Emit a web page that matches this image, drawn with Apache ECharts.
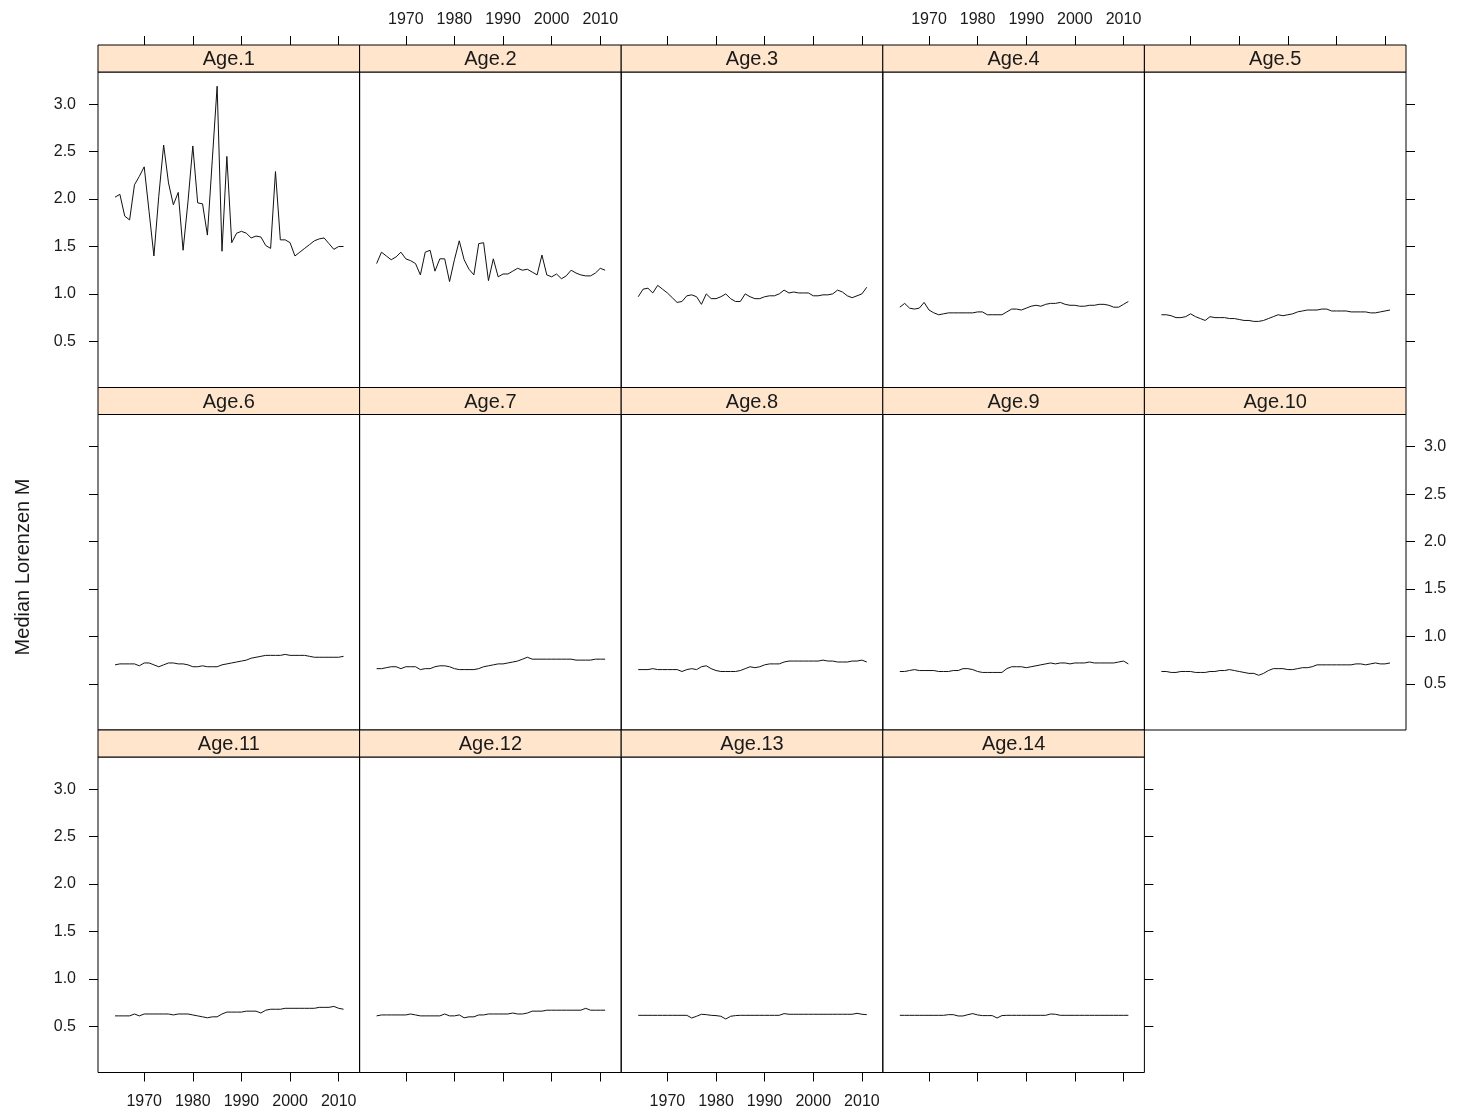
<!DOCTYPE html>
<html><head><meta charset="utf-8">
<script src="https://cdn.jsdelivr.net/npm/echarts@6/dist/echarts.min.js"></script>
<style>html,body{margin:0;padding:0;background:#fff}#chart{width:1457px;height:1115px}</style>
</head><body><div id="chart"></div>
<script>
// ---------------- DATA ----------------
const years = [1964,1965,1966,1967,1968,1969,1970,1971,1972,1973,1974,1975,1976,1977,1978,1979,
  1980,1981,1982,1983,1984,1985,1986,1987,1988,1989,1990,1991,1992,1993,1994,1995,1996,1997,1998,1999,
  2000,2001,2002,2003,2004,2005,2006,2007,2008,2009,2010,2011];
const panelTitles = ['Age.1','Age.2','Age.3','Age.4','Age.5','Age.6','Age.7','Age.8','Age.9','Age.10',
  'Age.11','Age.12','Age.13','Age.14'];
const xTickValues = [1970, 1980, 1990, 2000, 2010];
const yTickValues = [0.5, 1.0, 1.5, 2.0, 2.5, 3.0];
const yAxisTitle = 'Median Lorenzen M';

const age1 = [2.02,2.05,1.82,1.78,2.15,2.24,2.34,1.87,1.40,2.03,2.57,2.17,1.94,2.07,1.46,1.97,2.56,1.96,1.95,1.62,2.41,3.19,1.45,2.45,
  1.54,1.64,1.66,1.64,1.59,1.61,1.60,1.51,1.48,2.29,1.57,1.57,1.54,1.40,1.44,1.48,1.52,1.56,1.58,1.59,1.53,1.47,1.50,1.50];
const age2 = [1.32,1.44,1.40,1.36,1.39,1.44,1.37,1.35,1.32,1.20,1.44,1.46,1.24,1.37,1.37,1.13,1.36,1.56,1.36,1.26,1.20,1.53,1.54,1.14,
  1.37,1.18,1.21,1.21,1.24,1.27,1.25,1.26,1.23,1.20,1.41,1.20,1.18,1.21,1.16,1.19,1.25,1.22,1.20,1.19,1.19,1.22,1.27,1.25];
const age3 = [0.97,1.05,1.06,1.01,1.09,1.05,1.01,0.96,0.91,0.92,0.98,0.99,0.97,0.89,1.00,0.95,0.95,0.97,1.00,0.95,0.92,0.92,1.00,0.97,
  0.95,0.95,0.97,0.98,0.98,1.00,1.04,1.01,1.02,1.01,1.01,1.01,0.98,0.98,0.99,0.99,1.00,1.04,1.02,0.98,0.96,0.98,1.00,1.07];
const age4 = [0.86,0.90,0.85,0.84,0.85,0.91,0.83,0.80,0.78,0.79,0.80,0.80,0.80,0.80,0.80,0.80,0.81,0.81,0.78,0.78,0.78,0.78,0.81,0.84,
  0.84,0.83,0.85,0.87,0.88,0.87,0.89,0.90,0.90,0.91,0.89,0.88,0.88,0.87,0.87,0.88,0.88,0.89,0.89,0.88,0.86,0.86,0.89,0.92];
const age5 = [0.78,0.78,0.77,0.75,0.75,0.76,0.79,0.76,0.74,0.72,0.76,0.75,0.75,0.75,0.74,0.74,0.73,0.72,0.72,0.71,0.71,0.72,0.74,0.76,
  0.78,0.77,0.78,0.79,0.81,0.82,0.83,0.83,0.83,0.84,0.84,0.82,0.82,0.82,0.82,0.81,0.81,0.81,0.81,0.80,0.80,0.81,0.82,0.83];
const age6 = [0.70,0.71,0.71,0.71,0.71,0.69,0.72,0.72,0.70,0.68,0.70,0.72,0.72,0.71,0.71,0.70,0.68,0.68,0.69,0.68,0.68,0.68,0.70,0.71,
  0.72,0.73,0.74,0.75,0.77,0.78,0.79,0.80,0.80,0.80,0.80,0.81,0.80,0.80,0.80,0.80,0.79,0.78,0.78,0.78,0.78,0.78,0.78,0.79];
const age7 = [0.66,0.66,0.67,0.68,0.68,0.66,0.68,0.68,0.68,0.65,0.66,0.66,0.68,0.69,0.69,0.68,0.66,0.65,0.65,0.65,0.65,0.66,0.68,0.69,
  0.70,0.71,0.71,0.72,0.73,0.74,0.76,0.78,0.76,0.76,0.76,0.76,0.76,0.76,0.76,0.76,0.76,0.75,0.75,0.75,0.75,0.76,0.76,0.76];
const age8 = [0.65,0.65,0.65,0.66,0.65,0.65,0.65,0.65,0.65,0.63,0.65,0.66,0.65,0.68,0.69,0.66,0.64,0.63,0.63,0.63,0.63,0.64,0.66,0.68,
  0.67,0.68,0.70,0.71,0.71,0.71,0.73,0.74,0.74,0.74,0.74,0.74,0.74,0.74,0.75,0.74,0.74,0.73,0.73,0.73,0.74,0.74,0.75,0.73];
const age9 = [0.63,0.63,0.64,0.65,0.64,0.64,0.64,0.64,0.63,0.63,0.63,0.64,0.64,0.66,0.66,0.65,0.63,0.62,0.62,0.62,0.62,0.62,0.66,0.68,
  0.68,0.68,0.67,0.68,0.69,0.70,0.71,0.72,0.71,0.72,0.72,0.71,0.72,0.72,0.72,0.73,0.72,0.72,0.72,0.72,0.72,0.73,0.74,0.71];
const age10 = [0.63,0.63,0.62,0.62,0.63,0.63,0.63,0.62,0.62,0.62,0.63,0.63,0.64,0.64,0.65,0.64,0.63,0.62,0.61,0.61,0.59,0.61,0.64,0.66,
  0.66,0.66,0.65,0.65,0.66,0.67,0.67,0.68,0.70,0.70,0.70,0.70,0.70,0.70,0.70,0.70,0.71,0.71,0.70,0.71,0.72,0.71,0.71,0.72];
const age11 = [0.61,0.61,0.61,0.61,0.63,0.61,0.63,0.63,0.63,0.63,0.63,0.63,0.62,0.63,0.63,0.63,0.62,0.61,0.60,0.59,0.60,0.60,0.63,0.65,
  0.65,0.65,0.65,0.66,0.66,0.66,0.64,0.67,0.68,0.68,0.68,0.69,0.69,0.69,0.69,0.69,0.69,0.69,0.70,0.70,0.70,0.71,0.69,0.68];
const age12 = [0.61,0.62,0.62,0.62,0.62,0.62,0.62,0.63,0.62,0.61,0.61,0.61,0.61,0.61,0.63,0.61,0.61,0.62,0.59,0.60,0.60,0.62,0.62,0.63,
  0.63,0.63,0.63,0.63,0.64,0.63,0.63,0.64,0.66,0.66,0.66,0.67,0.67,0.67,0.67,0.67,0.67,0.67,0.67,0.69,0.67,0.67,0.67,0.67];
const age13 = [0.616,0.616,0.616,0.616,0.616,0.616,0.616,0.616,0.616,0.616,0.616,0.588,0.606,0.627,0.623,0.616,0.613,0.606,0.577,0.606,0.613,
  0.616,0.616,0.616,0.616,0.616,0.616,0.616,0.616,0.616,0.634,0.627,0.627,0.627,0.627,0.627,0.627,0.627,0.627,0.627,0.627,0.627,0.627,0.627,
  0.627,0.637,0.627,0.623];
const age14 = [0.616,0.616,0.616,0.616,0.616,0.616,0.616,0.616,0.616,0.616,0.623,0.623,0.609,0.609,0.623,0.634,0.620,0.613,0.613,0.613,0.588,
  0.613,0.616,0.616,0.616,0.616,0.616,0.616,0.616,0.616,0.616,0.630,0.627,0.616,0.616,0.616,0.616,0.616,0.616,0.616,0.616,0.616,0.616,0.616,
  0.616,0.616,0.616,0.616];

const seriesValues = [age1,age2,age3,age4,age5,age6,age7,age8,age9,age10,age11,age12,age13,age14];

// ---------------- LAYOUT ----------------
const FONT = '"Liberation Sans", Arial, sans-serif';
const NCOL = 5, NROW = 3;
const PLOT_LEFT = 98, PANEL_W = 261.6;
const TOP0 = 45, ROW_PITCH = 342.5, STRIP_H = 27, PLOT_H = 315.5;
const X_MIN = 1960.5, X_MAX = 2014.3, Y_MIN = 0.013, Y_MAX = 3.34;
const TEXT_COLOR = '#1a1a1a';

const grids = [], xAxes = [], yAxes = [], series = [], graphics = [];
const nPanels = panelTitles.length;

panelTitles.forEach((title, i) => {
  const row = Math.floor(i / NCOL), col = i % NCOL;
  const left = PLOT_LEFT + col * PANEL_W;
  const stripTop = TOP0 + row * ROW_PITCH;
  const plotTop = stripTop + STRIP_H;
  grids.push({
    left: left, top: plotTop, width: PANEL_W, height: PLOT_H,
    containLabel: false, outerBoundsMode: 'none',
    show: true, borderColor: '#000', borderWidth: 1, backgroundColor: 'transparent'
  });
  const isTop = row === 0, isBottom = row === NROW - 1;
  const showXTicks = isTop || isBottom;
  const showXLabels = (isTop && col % 2 === 1) || (isBottom && col % 2 === 0);
  xAxes.push({
    type: 'value', gridIndex: i, min: X_MIN, max: X_MAX,
    position: isTop ? 'top' : 'bottom',
    offset: isTop ? STRIP_H : 0,
    axisLine: { show: false },
    axisTick: { show: showXTicks, customValues: xTickValues, length: 9, lineStyle: { color: '#000', width: 1 } },
    axisLabel: { show: showXLabels, customValues: xTickValues, margin: isTop ? 17 : 21, color: TEXT_COLOR,
      fontSize: 16, fontFamily: FONT, formatter: v => String(v) },
    splitLine: { show: false }
  });
  const isFirstCol = col === 0;
  const isLastInRow = (col === NCOL - 1) || (i === nPanels - 1);
  const showYTicks = isFirstCol || isLastInRow;
  const showYLabels = (isFirstCol && row % 2 === 0) || (isLastInRow && !isFirstCol && row % 2 === 1);
  yAxes.push({
    type: 'value', gridIndex: i, min: Y_MIN, max: Y_MAX,
    position: isFirstCol ? 'left' : 'right',
    axisLine: { show: false },
    axisTick: { show: showYTicks, customValues: yTickValues, length: 9, lineStyle: { color: '#000', width: 1 } },
    axisLabel: { show: showYLabels, customValues: yTickValues, margin: isFirstCol ? 22 : 18, color: TEXT_COLOR,
      fontSize: 16, fontFamily: FONT, formatter: v => Number(v).toFixed(1) },
    splitLine: { show: false }
  });
  series.push({
    type: 'line', xAxisIndex: i, yAxisIndex: i,
    data: years.map((yr, k) => [yr, seriesValues[i][k]]),
    showSymbol: false, symbol: 'none', silent: true,
    lineStyle: { color: '#111', width: 1 },
    emphasis: { disabled: true }
  });
  graphics.push({
    type: 'rect', silent: true, z: 10,
    shape: { x: left, y: stripTop, width: PANEL_W, height: STRIP_H },
    style: { fill: '#FFE5CC', stroke: '#000', lineWidth: 1 }
  });
  graphics.push({
    type: 'text', silent: true, z: 11,
    x: left + PANEL_W / 2, y: stripTop + STRIP_H / 2 + 1,
    style: { text: title, fill: TEXT_COLOR, font: '20px ' + FONT, align: 'center', verticalAlign: 'middle' }
  });
});

graphics.push({
  type: 'text', silent: true, x: 23, y: 567, rotation: Math.PI / 2,
  style: { text: yAxisTitle, fill: TEXT_COLOR, font: '20px ' + FONT, align: 'center', verticalAlign: 'middle' }
});

const chart = echarts.init(document.getElementById('chart'), null, { renderer: 'canvas' });
chart.setOption({
  animation: false,
  backgroundColor: '#fff',
  grid: grids, xAxis: xAxes, yAxis: yAxes, series: series,
  graphic: graphics
});
</script></body></html>
